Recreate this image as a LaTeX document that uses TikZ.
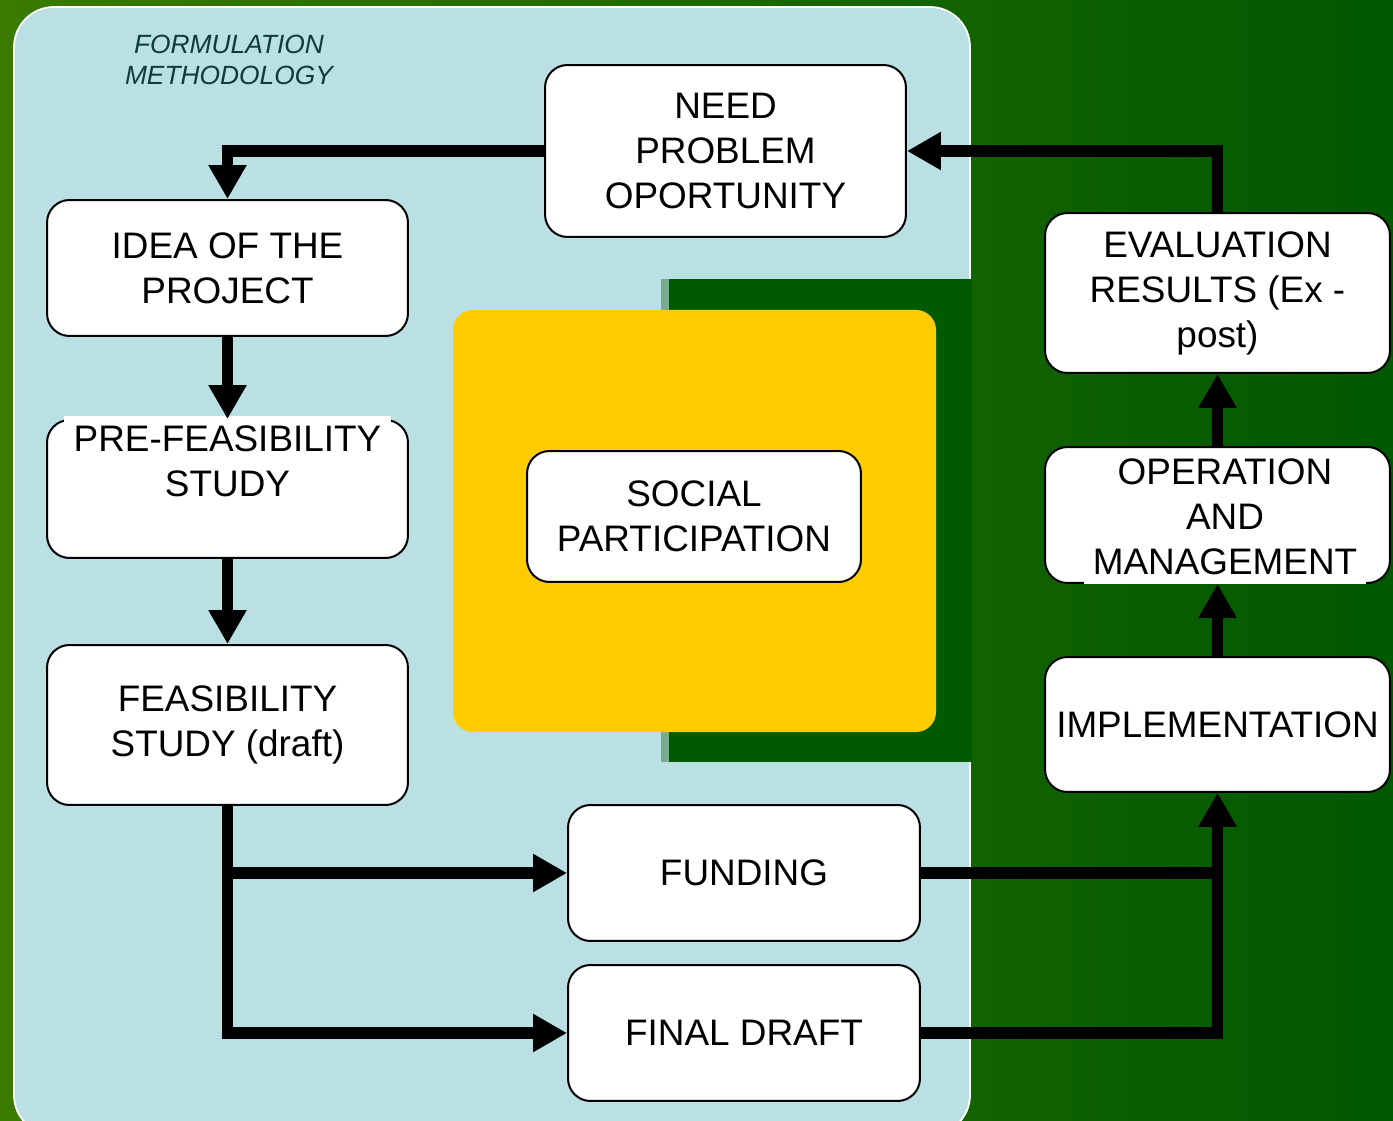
\documentclass[tikz,border=0pt]{standalone}
\usepackage{fontspec}
\setmainfont{Liberation Sans}
\usetikzlibrary{arrows.meta}

\definecolor{bgleft}{RGB}{58,122,0}
\definecolor{bgright}{RGB}{0,88,0}
\definecolor{panelblue}{RGB}{186,224,227}
\definecolor{blockgreen}{RGB}{0,90,0}
\definecolor{stripgreen}{RGB}{120,172,140}
\definecolor{partyellow}{RGB}{255,204,0}
\definecolor{labelteal}{RGB}{12,60,60}

\begin{document}
\begin{tikzpicture}[x=0.02cm, y=-0.02cm,
    box/.style={draw, fill=white, line width=0.04cm, rounded corners=0.45cm,
        align=center, inner sep=2pt, font=\fontsize{21}{25.6}\selectfont},
    boxtext/.style={fill=white, align=center, inner xsep=5pt, inner ysep=2pt,
        font=\fontsize{21}{25.6}\selectfont},
    flow/.style={line width=0.23cm, -{Triangle[length=0.68cm,width=0.72cm]}}]
    \useasboundingbox (0,0) rectangle (1393,1121);

	%background
    \shade[left color=bgleft, right color=bgright] (0,0) rectangle (1393,1121);
    \draw[white, fill=panelblue, line width=1pt, rounded corners=0.8cm] (14,7) rectangle (970,1135);
    \fill[blockgreen] (661,279) rectangle (972,762);
    \fill[stripgreen] (661,279) rectangle (669,762);
    \fill[partyellow, rounded corners=0.4cm] (453,310) rectangle (936,732);

    \node[labelteal, align=center, font=\fontsize{15}{17.6}\itshape] (title) at (229,60) {FORMULATION\\METHODOLOGY};

	%formulation
    \node[box, minimum width=7.22cm, minimum height=3.44cm] (need) at (725.5,151) {NEED\\PROBLEM\\OPORTUNITY};
    \node[box, minimum width=7.22cm, minimum height=2.72cm] (idea) at (227.5,268) {IDEA OF THE\\PROJECT};
    \node[box, minimum width=7.22cm, minimum height=2.76cm] (prefeas) at (227.5,489) {};
    \node[boxtext, anchor=north, inner xsep=0.2cm, inner ysep=5.4pt] (prefeastxt) at (227.5,416) {PRE-FEASIBILITY\\STUDY};
    \node[box, minimum width=7.22cm, minimum height=3.2cm] (feas) at (227.5,725) {FEASIBILITY\\STUDY (draft)};
    \node[box, minimum width=6.68cm, minimum height=2.62cm] (social) at (694,516.5) {SOCIAL\\PARTICIPATION};
    \node[box, minimum width=7.04cm, minimum height=2.72cm] (funding) at (744,873) {FUNDING};
    \node[box, minimum width=7.04cm, minimum height=2.72cm] (final) at (744,1033) {FINAL DRAFT};

	%execution
    \node[box, minimum width=6.9cm, minimum height=3.2cm] (eval) at (1217.5,293) {EVALUATION\\RESULTS (Ex -\\post)};
    \node[box, minimum width=6.9cm, minimum height=2.72cm] (oper) at (1217.5,515) {};
    \node[boxtext, anchor=south, text depth=0.12cm] (opertxt) at (1225,584.5) {OPERATION\\AND\\MANAGEMENT};
    \node[box, minimum width=6.9cm, minimum height=2.7cm] (impl) at (1217.5,724.5) {IMPLEMENTATION};

	%arrows
    \draw[flow] (need.west) -| (idea.north);
    \draw[flow] (idea.south) -- (prefeas.north);
    \draw[flow] (prefeas.south) -- (feas.north);
    \draw[flow] (feas.south) |- (funding.west);
    \draw[flow] (feas.south) |- (final.west);
    \draw[flow] (funding.east) -| (impl.south);
    \draw[flow] (final.east) -| (impl.south);
    \draw[flow] (impl.north) -- (oper.south);
    \draw[flow] (oper.north) -- (eval.south);
    \draw[flow] (eval.north) |- (need.east);

\end{tikzpicture}
\end{document}
